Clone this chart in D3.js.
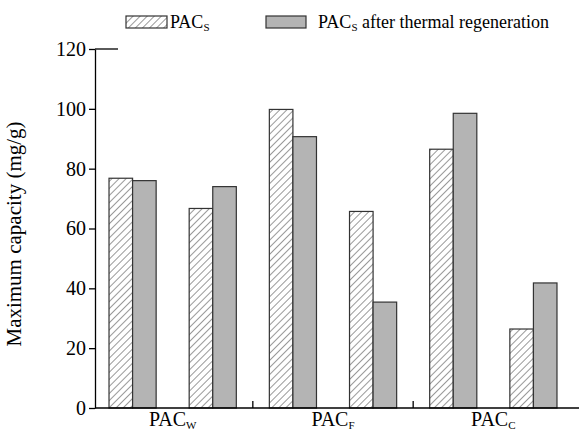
<!doctype html>
<html lang="en">
<head>
  <meta charset="UTF-8" />
  <script src="https://cdn.jsdelivr.net/npm/d3@7"></script>
  <style>
    body { margin: 0; background: white; }
    text { font-family: "Liberation Serif", "Times New Roman", serif; fill: black; }
    .bar { stroke: #333; stroke-width: 1.2; }
    .axis path, .axis line { stroke: black; stroke-width: 1.3; }
  </style>
  <title>Maximum capacity</title>
</head>
<body>
  <script>
    // groups on the x axis (label + subscript)
    var groups = [["PAC", "W"], ["PAC", "F"], ["PAC", "C"]];
    // two sample pairs per group, PAC_S and after regeneration
    var pacS = [76.8, 66.7, 99.8, 65.7, 86.5, 26.4];
    var pacRegen = [76.0, 74.0, 90.7, 35.4, 98.5, 41.8];
    var yTicks = [0, 20, 40, 60, 80, 100, 120];

    var svg = d3.select("body").append("svg")
      .attr("width", 579).attr("height", 432);

    var defs = svg.append("defs");
    var pat = defs.append("pattern")
      .attr("id", "hatch")
      .attr("patternUnits", "userSpaceOnUse")
      .attr("width", 5).attr("height", 5)
      .attr("patternTransform", "rotate(45)");
    pat.append("rect").attr("width", 5).attr("height", 5).attr("fill", "white");
    pat.append("line")
      .attr("x1", 0).attr("y1", 0).attr("x2", 0).attr("y2", 5)
      .attr("stroke", "#333").attr("stroke-width", 1);

    var y = d3.scaleLinear().domain([0, 120]).range([408, 49]);
    // x in group units: 0..3
    var x = d3.scaleLinear().domain([0, 3]).range([92.5, 573.5]);
    var barW = x(0.147) - x(0);

    var pairs = pacS.map(function (v, i) {
      return { pos: Math.floor(i / 2) + (i % 2 == 0 ? 0.25 : 0.75), s: v, r: pacRegen[i] };
    });

    var bars = svg.append("g");
    bars.selectAll(".hs").data(pairs).enter().append("rect")
      .attr("class", "bar")
      .attr("fill", "url(#hatch)")
      .attr("x", function (d) { return x(d.pos) - barW; })
      .attr("y", function (d) { return y(d.s); })
      .attr("width", barW)
      .attr("height", function (d) { return y(0) - y(d.s); });
    bars.selectAll(".gr").data(pairs).enter().append("rect")
      .attr("class", "bar")
      .attr("fill", "#b4b4b4")
      .attr("x", function (d) { return x(d.pos); })
      .attr("y", function (d) { return y(d.r); })
      .attr("width", barW)
      .attr("height", function (d) { return y(0) - y(d.r); });

    // y axis
    var yAxis = svg.append("g").attr("class", "axis")
      .attr("transform", "translate(95,0)")
      .call(d3.axisLeft(y).tickValues(yTicks).tickSize(6).tickSizeOuter(0).tickPadding(3));
    yAxis.selectAll("text").style("font-size", "20px").style("font-family", "Liberation Serif");
    svg.append("line")
      .attr("x1", 95).attr("x2", 118).attr("y1", y(120)).attr("y2", y(120))
      .attr("stroke", "black").attr("stroke-width", 1.3);

    // x axis
    svg.append("line")
      .attr("x1", 95).attr("x2", 579).attr("y1", y(0)).attr("y2", y(0))
      .attr("stroke", "black").attr("stroke-width", 1.3);
    svg.append("g").selectAll("line").data([1, 2]).enter().append("line")
      .attr("x1", function (d) { return x(d); }).attr("x2", function (d) { return x(d); })
      .attr("y1", y(0)).attr("y2", y(0) - 7)
      .attr("stroke", "black").attr("stroke-width", 1.3);

    var gl = svg.append("g").selectAll("text").data(groups).enter().append("text")
      .attr("x", function (d, i) { return x(i + 0.5); })
      .attr("y", 426)
      .attr("text-anchor", "middle")
      .style("font-size", "20px");
    gl.append("tspan").text(function (d) { return d[0]; });
    gl.append("tspan").attr("dy", 3).style("font-size", "11px").text(function (d) { return d[1]; });

    // y label
    svg.append("text")
      .attr("transform", "translate(21,234) rotate(-90)")
      .attr("text-anchor", "middle")
      .style("font-size", "21px")
      .text("Maximum capacity (mg/g)");

    // legend
    var leg = svg.append("g");
    leg.append("rect").attr("class", "bar").attr("fill", "url(#hatch)")
      .attr("x", 126).attr("y", 16).attr("width", 41).attr("height", 12);
    var t1 = leg.append("text").attr("x", 170).attr("y", 28).style("font-size", "18px");
    t1.append("tspan").text("PAC");
    t1.append("tspan").attr("dy", 3).style("font-size", "11px").text("S");
    leg.append("rect").attr("class", "bar").attr("fill", "#b4b4b4")
      .attr("x", 266).attr("y", 16).attr("width", 40).attr("height", 12);
    var t2 = leg.append("text").attr("x", 318).attr("y", 28).style("font-size", "18px");
    t2.append("tspan").text("PAC");
    t2.append("tspan").attr("dy", 3).style("font-size", "11px").text("S");
    t2.append("tspan").attr("dy", -3).text(" after thermal regeneration");
  </script>
</body>
</html>
